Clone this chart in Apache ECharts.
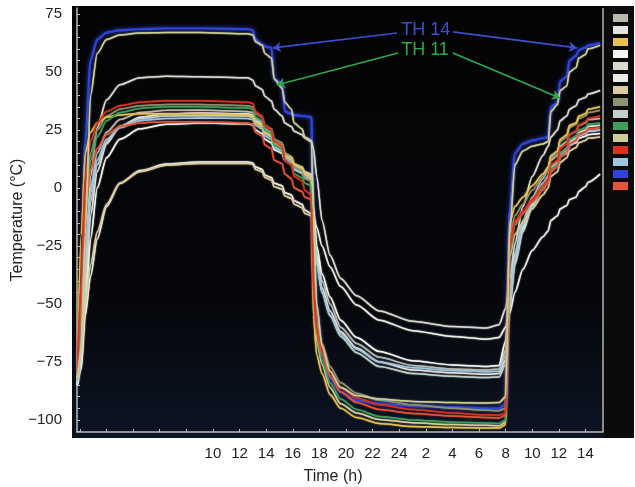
<!DOCTYPE html>
<html>
<head>
<meta charset="utf-8">
<script src="https://cdn.jsdelivr.net/npm/echarts@6/dist/echarts.min.js"></script>
<style>
html,body{margin:0;padding:0;background:#fff;}
#chart{width:635px;height:487px;}
</style>
</head>
<body>
<div id="chart"></div>
<script>
// Time in hours since start of day 1 (values > 24 belong to day 2)
const times = [-0.2, 0.1, 0.4, 0.8, 1.3, 2.0, 3.0, 4.5, 6.5, 9.0, 12.6,
  13.0, 13.2, 13.7, 13.9, 14.4, 14.6, 15.2, 15.4, 15.9, 16.1, 16.7, 16.9, 17.4,
  17.55, 17.8, 18.2, 18.8, 19.6, 20.8, 22.5, 25, 28, 30.5, 31.5,
  32.0, 32.3, 32.7, 33.3, 34.0, 34.8,
  35.2, 35.4, 35.9, 36.1, 36.6, 36.8, 37.3, 37.5, 38.0, 38.2, 39.1];

const th1 = [-84, -70, -30, 0, 15, 24, 29.5, 32.5, 33.5, 33.6, 33,
  32.5, 30, 28.5, 25.5, 24, 20, 18.5, 15, 13.5, 10.5, 9, 7, 6,
  -10, -28, -40, -50, -60, -67, -73, -76.5, -78, -78.5, -78,
  -70, -45, -28, -14, -4, 4,
  8, 12, 14, 18, 20, 23, 24.5, 27, 28, 29.5, 30];
const th2 = [-85, -75, -45, -12, 7, 19, 26.5, 30.5, 32, 32.3, 32,
  31.5, 29, 27.5, 24.5, 23, 19.5, 18, 14.5, 13, 10, 8.5, 6.5, 5.5,
  -12, -30, -43, -53, -62, -69, -75, -78.5, -79.7, -80.3, -80,
  -74, -50, -32, -18, -7, 1,
  5, 9, 11, 15, 17, 20, 21.5, 24, 25, 26.5, 27];
const th3 = [-78, -20, 15, 24, 28, 30.5, 31.5, 32, 32, 32, 31.5,
  31, 28, 27, 24, 23, 19, 18, 14, 13, 10, 9, 6, 5,
  -55, -72, -80, -89, -95, -99, -101.5, -102.8, -103.3, -103.5, -103.5,
  -102, -15, -8, -4, 1, 6,
  9, 14, 16, 21, 23, 27, 28, 31, 32, 34, 35];
const th4 = [-85, -78, -52, -22, 0, 13, 21, 25.5, 27.5, 28, 27.7,
  27.2, 25, 23.5, 21, 19.5, 16.5, 15, 12, 10.5, 8, 6.5, 4.5, 3.5,
  -8, -25, -37, -47, -57, -64.5, -70.5, -74.5, -76.3, -77, -76.5,
  -66, -47, -30, -17, -7, 1,
  4.5, 8.5, 10.5, 14, 15.5, 18.5, 19.5, 21.5, 22.3, 23, 23.5];
const th5 = [-84, -75, -40, 5, 26, 38, 44.5, 47.5, 48.2, 48, 47.5,
  46.5, 44, 42.5, 39.5, 37.5, 34, 31, 28, 26.5, 24.5, 23, 21.5, 20,
  17, 5, -14, -29, -39, -46.5, -53, -57.5, -59.7, -60.4, -59,
  -52, -40, -24, -8, 5, 14,
  18, 22, 25, 29, 31, 34, 35.5, 38, 39, 40.5, 42];
const th6 = [-84, -72, -55, -38, -22, -8, 2, 7.5, 10.3, 11.2, 11.2,
  10.8, 9, 8, 5.5, 4.5, 2, 1, -2, -3, -5.5, -7, -9.5, -11,
  -13, -17, -25, -34, -42.5, -50.5, -57, -61.5, -64, -65.2, -64.5,
  -60, -54, -45, -35, -27, -21,
  -18.5, -14, -12, -9, -7.5, -5, -4, -1.5, 0.5, 2.5, 6];
const th7 = [-82, -68, -50, -33, -19, -7, 2, 7, 9.8, 10.6, 10.6,
  10.2, 8, 7, 4.5, 3.5, 0.5, -0.5, -3.5, -4.5, -7, -8.5, -11, -12,
  -48, -66, -76, -86, -93, -97, -99.8, -101.2, -102, -102.3, -102.5,
  -101, -30, -20, -15, -9, -3,
  0, 5, 7, 11, 13, 16, 17.5, 19.5, 20.5, 21.5, 22];
const th8 = [-82, -55, -5, 15, 25, 31, 34, 35.5, 36, 36, 35.5,
  35, 32, 30.5, 27, 25.5, 21, 19.5, 15, 13, 9, 7.5, 4, 3,
  -35, -58, -67, -77, -84, -88.5, -91.5, -93.5, -95, -95.8, -96,
  -95, -22, -12, -7, -1, 5,
  8, 13, 15, 20, 22, 26, 27.5, 30, 31, 32.5, 33.5];
const th9 = [-84, -72, -38, -6, 10, 20, 26.5, 29.8, 31, 31.2, 31,
  30.5, 28, 26.5, 23.5, 22, 18.5, 17, 13.5, 12, 9, 7.5, 5.5, 4.5,
  -14, -32, -45, -55, -64, -71, -77, -80, -81.2, -81.7, -81.5,
  -76, -52, -33, -19, -8, 0,
  4, 8, 10, 13.5, 15, 18.5, 20, 22.5, 23.5, 24.5, 25];
const th10 = [-80, -50, -8, 12, 22, 29, 32.5, 34.3, 35, 35, 34.5,
  34, 30.5, 29, 25, 23.5, 18.5, 17, 12, 10, 6, 4.5, 2, 1,
  -42, -63, -74, -84, -91, -95.5, -98.5, -100, -101, -101.3, -101.5,
  -100, -28, -16, -11, -6, 0,
  3, 8, 10, 15, 17, 21, 22.5, 25, 26, 27.5, 28];
const th11 = [-82, -70, -20, 40, 58, 64, 66, 66.8, 67, 67, 66.5,
  66, 63, 61.5, 58, 56, 47, 43, 37, 34, 28, 25.5, 22, 20.5,
  -10, -50, -68, -79, -86, -89.5, -91, -92, -92.5, -92.7, -92.5,
  -90, -20, 10, 16, 18, 19,
  20, 33, 36, 42, 44, 50, 52, 56, 57.5, 60, 61.5];
const th12 = [-80, -40, 5, 20, 28, 33, 35.5, 37, 37.6, 37.6, 37,
  36.5, 33, 31, 27, 25, 20, 18, 12, 10, 5, 3, -1, -3,
  -40, -60, -69, -79, -86, -90.5, -93.5, -95.5, -97, -97.8, -98,
  -97, -25, -14, -10, -5, 1,
  4, 10, 12, 17, 19, 23, 24.5, 27, 28.5, 30, 31];
const th13 = [-83, -65, -28, -2, 12, 21, 26, 29, 30, 30.2, 30,
  29.5, 27, 25.5, 22.5, 21, 17.5, 16, 12.5, 11, 8, 6.5, 4.5, 3.5,
  -15, -33, -45, -55, -63, -69.5, -75, -77.5, -78.7, -79.2, -79,
  -72, -48, -30, -16, -6, 2,
  5, 9, 11, 14.5, 16, 19, 20.5, 22.5, 23.5, 24.5, 25];
const th14 = [-80, -60, 20, 55, 64, 67, 68, 68.5, 68.8, 68.8, 68.5,
  68, 64, 62, 61, 60.5, 47, 45, 33, 32, 31.5, 31, 31, 30.5,
  -20, -55, -72, -82, -88, -91.5, -93, -94, -94.5, -95, -95,
  -93, -10, 15, 19, 20.5, 21.5,
  22, 35, 37, 46, 48, 55, 57, 59.5, 60.5, 61.5, 62.5];
const th15 = [-81, -50, -10, 8, 17, 23, 26.5, 28, 28.6, 28.6, 28,
  27.5, 24, 22.5, 18.5, 17, 12, 10.5, 6, 4, 0, -1.5, -4, -5,
  -45, -62, -71, -81, -88, -92.5, -95.5, -97.2, -98.3, -99, -99.2,
  -98, -26, -15, -11, -6, -1,
  2, 7, 9, 13.5, 15.5, 19, 20.5, 23, 24, 25.5, 26];

const sensorNames = ['TH 1','TH 2','TH 3','TH 4','TH 5','TH 6','TH 7','TH 8','TH 9','TH 10','TH 11','TH 12','TH 13','TH 14','TH 15'];
const sensorValues = [th1, th2, th3, th4, th5, th6, th7, th8, th9, th10, th11, th12, th13, th14, th15];
const sensorColors = ['#b9b9ad','#e4e4e0','#e6c34e','#f4f4f0','#d9d9cf','#ebebe5','#dccb9f','#8f8f72','#c2d0c8','#3f9e5c','#cdcd95','#d8321f','#9fc6de','#2f44d6','#e5533a'];

const xLabelValues = [10,12,14,16,18,20,22,24,26,28,30,32,34,36,38];
const xTickValues = [0,2,4,6,8,10,12,14,16,18,20,22,24,26,28,30,32,34,36,38];
const yLabelValues = [-100,-75,-50,-25,0,25,50,75];
const yTickValues = [-105,-100,-95,-90,-85,-80,-75,-70,-65,-60,-55,-50,-45,-40,-35,-30,-25,-20,-15,-10,-5,0,5,10,15,20,25,30,35,40,45,50,55,60,65,70,75];

const chart = echarts.init(document.getElementById('chart'));
const FONT = '"Liberation Sans", Arial, Helvetica, sans-serif';

// draw order: blue first so others sit on top of it
const order = [13, 0, 1, 3, 4, 5, 8, 12, 7, 6, 2, 9, 14, 11, 10];
const series = order.map(i => {
  const s = {
    name: sensorNames[i],
    type: 'line',
    data: times.map((t, k) => [t, sensorValues[i][k]]),
    showSymbol: false,
    symbol: 'none',
    smooth: 0.25,
    smoothMonotone: 'x',
    color: sensorColors[i],
    lineStyle: { width: i === 13 ? 2.4 : 1.5, color: sensorColors[i],
      shadowColor: sensorColors[i], shadowBlur: i === 13 ? 4 : 1.5 },
    emphasis: { disabled: true },
    silent: true,
    z: i === 13 ? 1 : 2
  };
  if (i === 13) {
    s.markLine = {
      silent: true, animation: false, symbol: ['none', 'arrow'], symbolSize: 8,
      label: { show: false },
      lineStyle: { color: '#3d4fd0', width: 1.6, type: 'solid', shadowBlur: 0 },
      data: [
        [{ coord: [23.83, 66.8] }, { coord: [14.51, 60.4] }],
        [{ coord: [28.04, 67.3] }, { coord: [37.37, 60.4] }]
      ]
    };
  }
  if (i === 10) {
    s.markLine = {
      silent: true, animation: false, symbol: ['none', 'arrow'], symbolSize: 8,
      label: { show: false },
      lineStyle: { color: '#2fa84f', width: 1.6, type: 'solid', shadowBlur: 0 },
      data: [
        [{ coord: [23.91, 58.2] }, { coord: [14.81, 44.4] }],
        [{ coord: [28.04, 58.2] }, { coord: [36.09, 38.8] }]
      ]
    };
  }
  return s;
});

const baseGraphic = [
  { id: 'bg', type: 'rect', z: -10, silent: true,
    shape: { x: 72, y: 6, width: 532, height: 432 },
    style: { fill: new echarts.graphic.LinearGradient(0, 0, 0, 1, [
      { offset: 0, color: '#040404' }, { offset: 0.7, color: '#05070b' }, { offset: 1, color: '#0c1424' }]) } },
  { id: 'strip', type: 'rect', z: -10, silent: true,
    shape: { x: 604, y: 6, width: 30, height: 432 },
    style: { fill: '#0b0b0b' } },
  { id: 'rframe', type: 'line', z: 5, silent: true,
    shape: { x1: 603, y1: 8, x2: 603, y2: 432 },
    style: { stroke: '#b5b5b0', lineWidth: 1.5 } }
];

const option = {
  animation: false,
  backgroundColor: '#ffffff',
  textStyle: { fontFamily: FONT },
  grid: { left: 77, right: 32, top: 8, bottom: 55, outerBoundsMode: 'none', containLabel: false },
  legend: {
    orient: 'vertical', left: 613, top: 14,
    itemWidth: 15, itemHeight: 8, itemGap: 4,
    icon: 'rect', selectedMode: false, padding: 0,
    data: sensorNames,
    formatter: () => '',
    textStyle: { fontSize: 1 }
  },
  xAxis: {
    type: 'value', min: -0.22, max: 39.32,
    axisLine: { show: true, onZero: false, lineStyle: { color: '#bdbdb8', width: 1.5 } },
    axisTick: { show: true, inside: true, length: 3, customValues: xTickValues,
      lineStyle: { color: '#bdbdb8' } },
    axisLabel: { customValues: xLabelValues, fontSize: 15, color: '#222', margin: 14,
      fontFamily: FONT, formatter: v => String(v > 24 ? v - 24 : v) },
    splitLine: { show: false },
    name: 'Time (h)', nameLocation: 'middle', nameGap: 37, nameMoveOverlap: false,
    nameTextStyle: { fontSize: 16, color: '#222', fontFamily: FONT, padding: [0, 14, 0, 0] }
  },
  yAxis: {
    type: 'value', min: -105.2, max: 77.6,
    axisLine: { show: true, onZero: false, lineStyle: { color: '#bdbdb8', width: 1.5 } },
    axisTick: { show: true, inside: true, length: 3, customValues: yTickValues,
      lineStyle: { color: '#bdbdb8' } },
    axisLabel: { customValues: yLabelValues, fontSize: 15, color: '#222', margin: 15,
      fontFamily: FONT, formatter: v => (v < 0 ? '\u2212' + Math.abs(v) : String(v)) },
    splitLine: { show: false },
    name: 'Temperature (°C)', nameLocation: 'middle', nameGap: 51, nameMoveOverlap: false,
    nameTextStyle: { fontSize: 16, color: '#222', fontFamily: FONT }
  },
  graphic: baseGraphic,
  series: series
};

chart.setOption(option);

const p14 = chart.convertToPixel({ gridIndex: 0 }, [26.0, 68.1]);
const p11 = chart.convertToPixel({ gridIndex: 0 }, [25.94, 59.5]);
chart.setOption({
  graphic: baseGraphic.concat([
    { id: 'lbl14', type: 'text', z: 10, silent: true, x: p14[0], y: p14[1],
      style: { text: 'TH 14', fill: '#3d4fd0', font: '18px ' + FONT,
        align: 'center', verticalAlign: 'middle', textAlign: 'center', textVerticalAlign: 'middle' } },
    { id: 'lbl11', type: 'text', z: 10, silent: true, x: p11[0], y: p11[1],
      style: { text: 'TH 11', fill: '#2fa84f', font: '18px ' + FONT,
        align: 'center', verticalAlign: 'middle', textAlign: 'center', textVerticalAlign: 'middle' } }
  ])
});
</script>
</body>
</html>
